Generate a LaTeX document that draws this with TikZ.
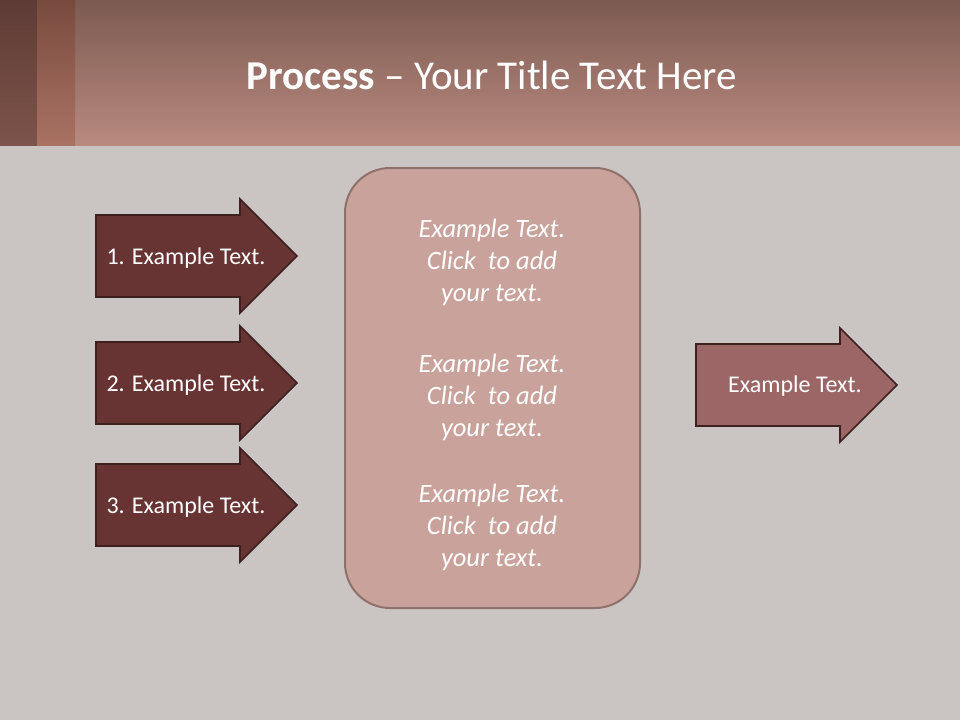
\documentclass[tikz,border=0pt]{standalone}
\usepackage{fontspec}
\setmainfont{Carlito}
\usepackage{tikz}
\usetikzlibrary{positioning}
\definecolor{slidebg}{HTML}{CAC5C3}
\definecolor{headtop}{HTML}{7C5A51}
\definecolor{headbot}{HTML}{B98A80}
\definecolor{stripeA}{HTML}{6E463E}
\definecolor{stripeB}{HTML}{A06352}
\definecolor{darkarr}{HTML}{683333}
\definecolor{lightarr}{HTML}{9B6665}
\definecolor{arredge}{HTML}{3E2020}
\definecolor{panelfill}{HTML}{C9A39B}
\definecolor{paneledge}{HTML}{8F716B}

\begin{document}
\begin{tikzpicture}[x=1pt, y=-1pt,
  arrshape/.style={draw=arredge, line width=1.6pt, line join=miter},
  arrtxt/.style={text=white, font=\fontsize{24}{28}\selectfont},
  paneltxt/.style={text=white, align=center, font=\fontsize{26.5}{32}\selectfont\itshape}
]
\useasboundingbox (0,0) rectangle (960,720);
% background and header
\fill[slidebg] (0,0) rectangle (960,720);
\shade[top color=headtop, bottom color=headbot] (0,0) rectangle (960,145);
\shade[top color=stripeA!85!black, bottom color=stripeA!80!headbot] (0,0) rectangle (37,145);
\shade[top color=stripeB!75!black, bottom color=stripeB!90!white] (37,0) rectangle (75,145);
\node[text=white, font=\fontsize{41}{48}\selectfont] (title) at (492,75) {\textbf{Process} -- Your Title Text Here};

% three input arrows
\foreach \n/\y in {1/256,2/383,3/505}{
  \draw[arrshape, fill=darkarr] (96,\y-41) -- (240,\y-41) -- (240,\y-57) -- (297,\y)
    -- (240,\y+57) -- (240,\y+41) -- (96,\y+41) -- cycle;
  \node[arrtxt] (in\n) at (186,\y+2) {\n. Example Text.};
}

% middle panel
\draw[paneledge, line width=2pt, fill=panelfill, rounded corners=45pt] (345,168) rectangle (640,608);
\node[paneltxt] (txt1) at (492,262) {Example Text.\\Click\ \ to add\\your text.};
\node[paneltxt] (txt2) at (492,397) {Example Text.\\Click\ \ to add\\your text.};
\node[paneltxt] (txt3) at (492,527) {Example Text.\\Click\ \ to add\\your text.};

% output arrow
\draw[arrshape, fill=lightarr] (696,344) -- (840,344) -- (840,328) -- (897,385)
  -- (840,442) -- (840,426) -- (696,426) -- cycle;
\node[arrtxt] (out) at (795,386) {Example Text.};
\end{tikzpicture}
\end{document}
